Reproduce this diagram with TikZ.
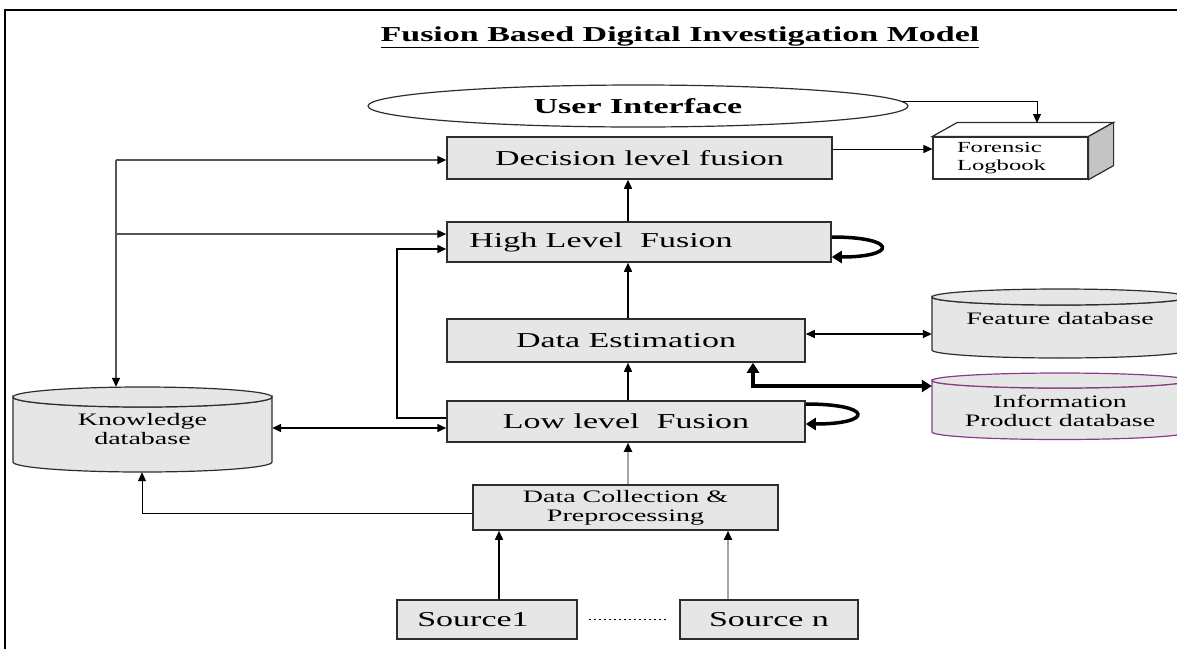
\documentclass[tikz,border=0pt]{standalone}
\usepackage{fontspec}
\setmainfont{Liberation Serif}[FakeStretch=1.6]
\usetikzlibrary{arrows.meta,shapes.geometric}
\definecolor{boxfill}{RGB}{230,230,230}
\definecolor{edge}{RGB}{45,45,45}
\definecolor{plum}{RGB}{135,60,135}
\definecolor{sidegray}{RGB}{196,196,196}
\definecolor{wire}{RGB}{85,85,85}

% database cylinder: left x, right x, top-ellipse centre y, body bottom y, y radius, outline colour
\newcommand\dbcyl[6]{%
  \pgfmathsetmacro\cylcx{(#1+#2)/2}\pgfmathsetmacro\cylrx{(#2-#1)/2}%
  \filldraw[fill=boxfill, draw=#6, line width=1.2pt]
    (#1,#3) -- (#1,#4) arc[start angle=180, end angle=360, x radius=\cylrx pt, y radius=#5 pt]
    -- (#2,#3) arc[start angle=0, end angle=-180, x radius=\cylrx pt, y radius=#5 pt] -- cycle;
  \filldraw[fill=boxfill, draw=#6, line width=1.2pt]
    (\cylcx,#3) ellipse[x radius=\cylrx pt, y radius=#5 pt];
}

\begin{document}
\begin{tikzpicture}[x=1pt, y=-1pt,
  box/.style={draw=edge, line width=1.5pt, fill=boxfill, inner sep=0pt,
              font=\fontsize{21.25}{24}\selectfont},
  smallbox/.style={box, font=\fontsize{17.5}{19}\selectfont, align=center},
  dbtext/.style={font=\fontsize{17.5}{19}\selectfont, align=center, inner sep=0pt},
  link/.style={draw=black, line width=1.5pt},
  greylink/.style={draw=wire, line width=1.5pt},
  fine/.style={draw=black, line width=1pt},
  soft/.style={draw=gray!70, line width=2pt},
  heavy/.style={draw=black, line width=3.5pt},
  tip/.style={-{Triangle[length=9pt,width=8pt,color=black]}},
  twotip/.style={{Triangle[length=9pt,width=8pt]}-{Triangle[length=9pt,width=8pt]}},
  bigtip/.style={-{Triangle[length=10pt,width=12pt]}},
  bigtwotip/.style={{Triangle[length=10pt,width=12pt]}-{Triangle[length=10pt,width=12pt]}},
]
\useasboundingbox (0,0) rectangle (1177,649);
\clip (0,0) rectangle (1177,649);

% frame
\draw[line width=2.2pt] (5,649) -- (5,10) -- (1177,10);

% title
\node (title) at (680,37)
  {\fontsize{21.25}{24}\selectfont\bfseries\underline{Fusion Based Digital Investigation Model}};

% user interface
\node[ellipse, draw=edge, line width=1.2pt, minimum width=540pt, minimum height=42pt, inner sep=0pt]
  (ui) at (638,106) {\fontsize{21.25}{24}\selectfont\bfseries User Interface};

% processing chain
\node[box, minimum width=385pt, minimum height=42pt] (dlf) at (639.5,158) {Decision level fusion};
\node[box, minimum width=384pt, minimum height=40pt] (hlf) at (639,242) {High Level\ \ Fusion\hspace*{76pt}};
\node[box, minimum width=358pt, minimum height=43pt] (de)  at (626,340.5) {Data Estimation};
\node[box, minimum width=358pt, minimum height=41pt] (llf) at (626,421.5) {Low level\ \ Fusion};
\node[smallbox, minimum width=305pt, minimum height=45pt] (dc) at (625.5,507.5) {Data Collection \&\\Preprocessing};
\node[box, minimum width=180pt, minimum height=39pt] (s1) at (487,619.5) {Source1\hspace*{28pt}};
\node[box, minimum width=178pt, minimum height=39pt] (sn) at (769,619.5) {Source n};

% forensic logbook (3-d box)
\node[draw=edge, line width=1.2pt, fill=white, minimum width=155pt, minimum height=42pt,
      text width=107pt, align=left, inner sep=0pt, font=\fontsize{15.4}{18.5}\selectfont]
  (lb) at (1010.5,158) {Forensic\\Logbook};
\filldraw[fill=white, draw=edge, line width=1.2pt]
  (lb.north west) -- ++(25,-14) -- ([shift={(25,-14)}]lb.north east) -- (lb.north east) -- cycle;
\filldraw[fill=sidegray, draw=edge, line width=1.2pt]
  (lb.north east) -- ++(25,-14) -- ([shift={(25,-14)}]lb.south east) -- (lb.south east) -- cycle;

% databases
\dbcyl{13}{272}{397}{462}{10}{edge}
\node[dbtext, minimum width=259pt, minimum height=85pt] (kdb) at (142.5,429.5) {Knowledge\\database};
\dbcyl{932}{1188}{297}{350}{8}{edge}
\node[inner sep=0pt, minimum width=256pt, minimum height=69pt] (fdb) at (1060,323.5) {};
\node[dbtext] (fdbt) at (1060,319) {Feature database};
\dbcyl{932}{1188}{380.5}{432}{7.5}{plum}
\node[inner sep=0pt, minimum width=256pt, minimum height=67pt] (idb) at (1060,406.5) {};
\node[dbtext] (idbt) at (1060,411) {Information\\Product database};

% helper points for routed connectors
\coordinate (spine) at (628,0);
\coordinate (c1) at (499,0);
\coordinate (cn) at (728,0);
\coordinate (kx) at (116,160);
\coordinate (kh) at (116,234);
\coordinate (la) at (397,418);
\coordinate (lt) at (397,249);
\coordinate (ky) at (0,428);
\coordinate (fy) at (0,334);
\coordinate (iy) at (753,386);
\coordinate (dk) at (142,513);
\coordinate (lbtop) at (1037,123);

% upward flow
\draw[link,tip] (hlf.north -| spine) -- (dlf.south -| spine);
\draw[link,tip] (de.north -| spine) -- (hlf.south -| spine);
\draw[link,tip] (llf.north -| spine) -- (de.south -| spine);
\draw[soft,tip] (dc.north -| spine) -- (llf.south -| spine);
\draw[link,tip] (s1.north -| c1) -- (dc.south -| c1);
\draw[soft,tip] (sn.north -| cn) -- (dc.south -| cn);
\draw[line width=1pt, dash pattern=on 2pt off 3pt, shorten <=11pt, shorten >=12pt] (s1.east) -- (sn.west);

% logbook feeds
\draw[fine,tip] ([yshift=9pt]dlf.east) -- ([yshift=9pt]lb.west);
\draw[fine,tip] (ui.1.6) -| (lbtop);

% knowledge database links
\draw[greylink,tip] (kx) -- (dlf.west |- kx);
\draw[greylink,tip] (kx) -- (kdb.north -| kx);
\draw[greylink,line width=1.2pt,tip] (kh) -- (hlf.west |- kh);
\draw[link,twotip] (kdb.east |- ky) -- (llf.west |- ky);
\draw[fine,tip] (dc.west |- dk) -- (dk) -- (kdb.south -| dk);

% low level to high level bypass
\draw[link,tip] (llf.west |- la) -- (la) -- (lt) -- (hlf.west |- lt);

% database exchanges
\draw[link,twotip] (de.east |- fy) -- (fdb.west |- fy);
\draw[heavy,bigtwotip] (de.south -| iy) |- (idb.west |- iy);

% feedback loops
\draw[heavy,bigtip] ([yshift=5pt]hlf.east) .. controls +(66,0) and +(66,0) .. ([yshift=-15pt]hlf.east);
\draw[heavy,bigtip] ([yshift=17.5pt]llf.east) .. controls +(68,0) and +(68,0) .. ([yshift=-2.5pt]llf.east);
\end{tikzpicture}
\end{document}
